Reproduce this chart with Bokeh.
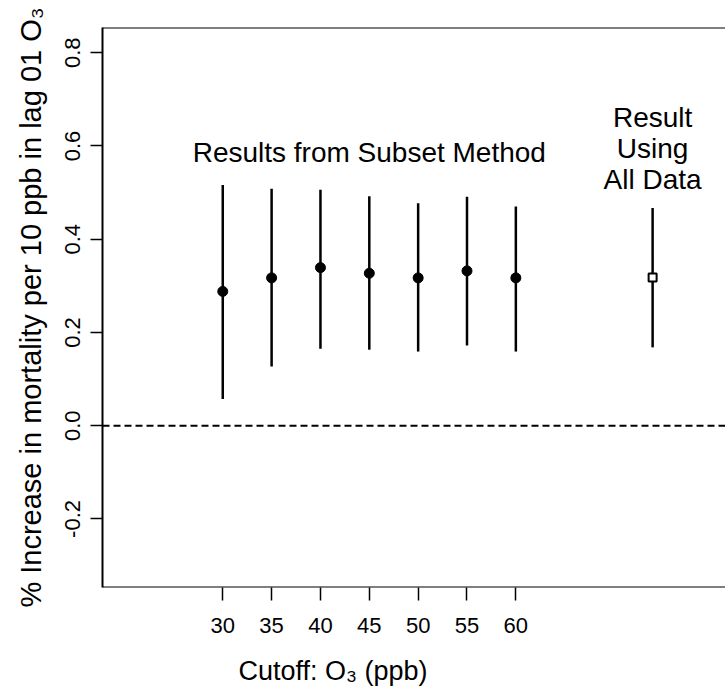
from bokeh.plotting import figure
from bokeh.models import Range1d, FixedTicker, Span, PrintfTickFormatter, ColumnDataSource, Title
from bokeh.core.properties import value
from bokeh.embed import file_html
from bokeh.resources import INLINE

# Data
cutoffs = [30, 35, 40, 45, 50, 55, 60]
estimates = [0.288, 0.317, 0.339, 0.327, 0.317, 0.332, 0.317]
lower = [0.057, 0.127, 0.165, 0.163, 0.159, 0.172, 0.159]
upper = [0.516, 0.508, 0.506, 0.492, 0.477, 0.491, 0.470]

all_x = [74]
all_est = [0.318]
all_lower = [0.168]
all_upper = [0.467]

y_ticks = [-0.2, 0.0, 0.2, 0.4, 0.6, 0.8]

FONT = "Liberation Sans"
X_START, X_END = 17.69, 81.46
Y_START, Y_END = -0.347, 0.854

p = figure(width=725, height=696,
           x_range=Range1d(X_START, X_END), y_range=Range1d(Y_START, Y_END),
           output_backend="svg", toolbar_location=None,
           min_border_left=102, min_border_right=0, min_border_top=27,
           min_border_bottom=109)

p.background_fill_color = "white"
p.border_fill_color = "white"
p.outline_line_color = None
p.xgrid.visible = False
p.ygrid.visible = False

# X axis
xa = p.xaxis[0]
xa.ticker = FixedTicker(ticks=cutoffs)
xa.axis_line_color = None
xa.major_tick_out = 13
xa.major_tick_in = 0
xa.major_tick_line_width = 1.5
xa.minor_tick_line_color = None
xa.major_label_text_font = FONT
xa.major_label_text_font_size = "22px"
xa.major_label_text_color = "black"
xa.major_label_standoff = 17
# blank spacer label that pushes the title further down
xa.axis_label = " "
xa.axis_label_text_font_size = "4px"
xa.axis_label_standoff = 5

# x-axis title, left-aligned beneath the tick labels as in the reference
p.add_layout(Title(text="Cutoff: O\u2083 (ppb)", align="left", offset=136,
                   text_font=FONT, text_font_size="27px", text_font_style="normal",
                   text_color="black", standoff=10), "below")

# Y axis
ya = p.yaxis[0]
ya.ticker = FixedTicker(ticks=y_ticks)
ya.formatter = PrintfTickFormatter(format="%.1f")
ya.axis_line_width = 2
ya.axis_line_color = "black"
ya.major_tick_out = 12
ya.major_tick_in = 0
ya.major_tick_line_width = 1.5
ya.minor_tick_line_color = None
ya.major_label_orientation = "vertical"
ya.major_label_text_font = FONT
ya.major_label_text_font_size = "22px"
ya.major_label_text_color = "black"
ya.major_label_standoff = 10
ya.axis_label = "% Increase in mortality per 10 ppb in lag 01 O\u2083"
ya.axis_label_text_font = FONT
ya.axis_label_text_font_size = "29px"
ya.axis_label_text_font_style = "normal"
ya.axis_label_text_color = "black"
ya.axis_label_standoff = 16

# box edges (top, bottom) and the zero reference line
p.add_layout(Span(location=Y_END, dimension="width", line_color="black", line_width=2))
p.add_layout(Span(location=Y_START, dimension="width", line_color="black", line_width=2))
p.add_layout(Span(location=0, dimension="width", line_color="black",
                  line_width=2, line_dash="7 4"))

src = ColumnDataSource(dict(x=cutoffs, est=estimates, lo=lower, hi=upper))
p.segment(x0="x", y0="lo", x1="x", y1="hi", source=src, line_color="black", line_width=2.5)
p.scatter(x="x", y="est", source=src, size=10, marker="circle",
          fill_color="black", line_color="black")

src2 = ColumnDataSource(dict(x=all_x, est=all_est, lo=all_lower, hi=all_upper))
p.segment(x0="x", y0="lo", x1="x", y1="hi", source=src2, line_color="black", line_width=2.5)
p.scatter(x="x", y="est", source=src2, size=8, marker="square",
          fill_color="white", line_color="black", line_width=2)

# annotations
mid_subset = (cutoffs[0] + cutoffs[-1]) / 2
p.text(x=[mid_subset], y=[0.586], text=["Results from Subset Method"],
       text_font=value(FONT), text_font_size="28px", text_align="center",
       text_baseline="alphabetic", text_color="black")
p.text(x=all_x, y=[0.694], text=["Result\nUsing\nAll Data"],
       text_font=value(FONT), text_font_size="28px", text_align="center",
       text_baseline="top", text_color="black", text_line_height=1.0)

open("out.html", "w").write(file_html(p, INLINE))
